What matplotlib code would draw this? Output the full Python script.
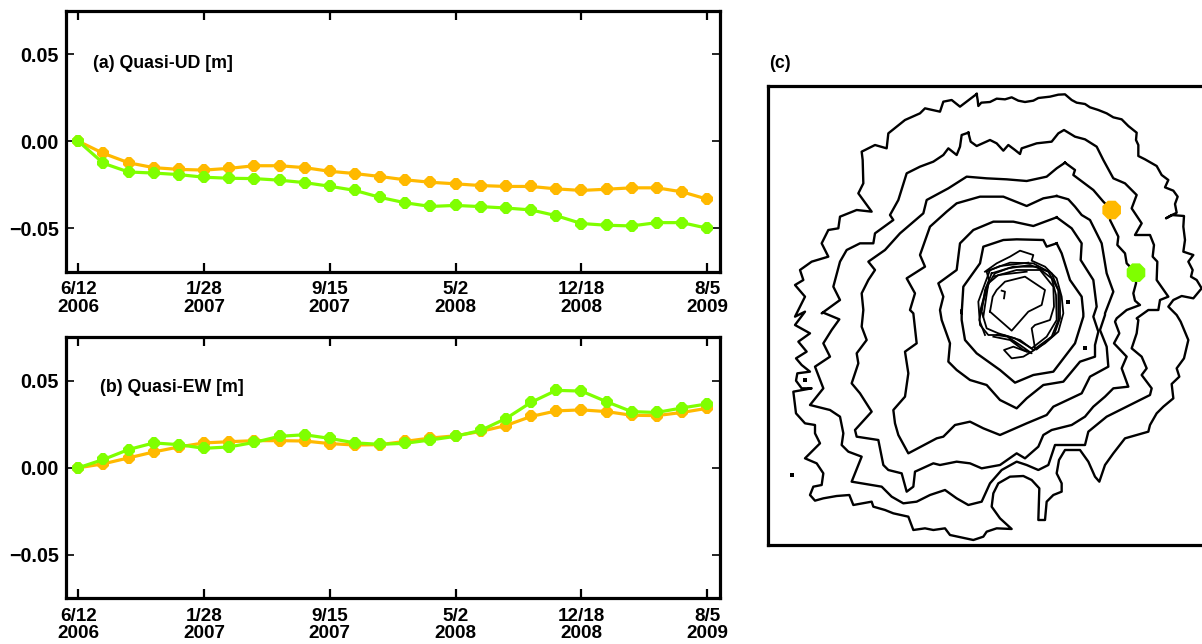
import matplotlib
matplotlib.use("Agg")
import matplotlib.pyplot as plt

plt.rcParams['font.family'] = ['Liberation Sans', 'DejaVu Sans']
plt.rcParams['font.weight'] = 'bold'

ORANGE = '#FFB900'
GREEN = '#7FFF00'

days = [0, 46, 92, 138, 184, 230, 276, 322, 368, 414, 460, 506, 552, 598, 644, 690, 736, 782, 828, 874, 920,
        966, 1012, 1058, 1104, 1150]
tick_days = [0, 230, 460, 690, 920, 1150]
tick_labels = ['6/12\n2006', '1/28\n2007', '9/15\n2007', '5/2\n2008', '12/18\n2008', '8/5\n2009']
y_ticks = [-0.05, 0.0, 0.05]
y_tick_labels = ['\u22120.05', '0.00', '0.05']

ud_orange = [0, -.007, -.0124, -.0152, -.0162, -.0166, -.0156, -.0141, -.0141, -.0152, -.0173, -.0186, -.0203,
             -.0222, -.0236, -.0245, -.0255, -.026, -.026, -.0274, -.0283, -.0276, -.0268, -.0268, -.0291, -.0333]
ud_green = [0, -.0127, -.0177, -.0183, -.0192, -.0207, -.0213, -.0215, -.0224, -.0238, -.0259, -.0283, -.0323,
            -.0354, -.0375, -.0369, -.0376, -.0384, -.0395, -.0428, -.0473, -.0483, -.0487, -.0468, -.0468, -.05]
ew_orange = [0, .0023, .0057, .0091, .012, .0143, .015, .0156, .0156, .0154, .0139, .0131, .0133,
             .0152, .0171, .0184, .0209, .0243, .0295, .0327, .0333, .0323, .0302, .03, .0318, .0342]
ew_green = [0, .0048, .0105, .0143, .0133, .0112, .012, .0146, .0181, .019, .0169, .0143, .0135,
            .0141, .016, .0181, .0215, .0283, .0376, .0445, .0441, .038, .0323, .0318, .0344, .0367]

# Contours in map units; y grows downward.  *_s parts are listed relative to south_shift.
south_shift = 690
c1_n = [(650,42),(653,60),(655,78),(664,68),(690,66),(710,56),(735,58),(755,52),(775,62),(795,66),(820,62),(835,54),
        (870,50),(895,44),(915,43),(935,60),(950,68),(975,72),(990,82),(1015,90),(1040,100),(1060,112),(1085,118),
        (1105,138),(1130,158),(1128,180),(1135,195),(1135,228),(1155,238),(1190,258),(1205,285),(1225,300),(1215,322),
        (1240,332),(1253,350),(1245,372),(1250,398),(1218,415),(1235,405),(1272,408),(1270,440),(1275,480),(1270,515),
        (1300,525),(1285,545),(1298,570),(1293,590),(1310,600),(1325,625),(1300,655),(1265,648),(1240,660),(1225,680),
        (1250,705),(1262,725)]
c1_s = [(1285,90),(1278,120),(1272,145),(1250,175),(1258,200),(1235,222),(1240,265),(1210,290),(1190,310),(1170,345),
        (1165,365),(1130,375),(1095,385),(1060,430),(1035,465),(1018,515),(1005,500),(985,455),(960,420),(915,420),
        (897,450),(890,490),(905,520),(905,545),(880,555),(860,575),(855,630),(835,630),(838,535),(815,510),(790,498),
        (750,500),(715,520),(700,550),(695,590),(720,625),(755,657),(710,655),(680,665),(670,680),(640,690),(570,675),
        (555,655),(520,660),(495,655),(460,660),(445,620),(400,610),(375,600),(340,590),(335,575),(280,585),(268,555),
        (230,558),(190,565),(165,572),(150,555),(160,530),(185,525),(190,490),(170,460),(135,445),(160,420),(180,400),
        (165,370),(165,345),(135,340),(108,310),(100,245),(155,235),(125,235),(108,212),(112,190),(150,185),(125,165),
        (108,145),(140,125),(115,95),(150,70),(105,45),(135,5),(105,20)]
c1_n2 = [(135,650),(105,615),(130,600),(120,570),(155,545),(205,530),(185,490),(205,450),(235,445),(240,410),(290,390),
         (335,395),(295,340),(310,310),(308,240),(305,215),(345,195),(380,205),(385,160),(410,140),(435,120),(480,100),
         (495,85),(540,95),(550,65),(575,60),(600,80),(650,42)]
c2_n = [(625,158),(632,185),(650,198),(690,180),(710,190),(730,212),(745,195),(765,210),(780,222),(785,205),(830,190),
        (875,185),(895,160),(912,150),(945,170),(975,178),(1010,200),(1030,240),(1060,295),(1095,310),(1130,345),
        (1115,385),(1145,430),(1125,465),(1170,465),(1182,495),(1178,530),(1192,545),(1190,600),(1225,650),(1200,660),
        (1195,690),(1165,690),(1130,715)]
c2_s = [(1135,30),(1130,70),(1115,115),(1145,140),(1160,175),(1145,195),(1175,235),(1170,255),(1120,280),(1070,305),
        (1040,320),(985,365),(975,405),(885,405),(865,465),(835,480),(800,465),(770,455),(725,480),(690,520),(665,575),
        (625,585),(590,565),(555,540),(510,555),(470,575),(430,580),(395,560),(365,530),(275,515),(305,440),(265,425),
        (245,405),(250,370),(240,320),(210,300),(150,285),(190,235),(165,170),(210,140),(190,100),(215,60),(238,28),
        (190,8)]
c2_n2 = [(185,700),(240,660),(220,620),(240,545),(260,510),(300,490),(340,490),(345,460),(400,420),(390,405),(415,360),
         (440,280),(480,260),(520,245),(550,225),(565,205),(590,225),(600,200),(605,165),(625,158)]
c3_n = [(915,248),(945,270),(940,285),(1000,330),(1030,365),(1055,390),(1050,420),(1075,470),(1072,495),(1095,520),
        (1100,550),(1128,578),(1128,610),(1120,640),(1125,662),(1140,675),(1100,690),(1070,715)]
c3_s = [(1065,35),(1078,70),(1062,100),(1100,140),(1085,175),(1105,230),(1060,235),(1035,260),(1000,290),(975,320),
        (935,345),(875,360),(850,375),(835,410),(795,445),(770,430),(720,465),(665,475),(630,460),(590,455),(540,465),
        (520,460),(465,485),(460,530),(440,545),(425,490),(385,480),(370,465),(355,390),(290,380),(285,360),(335,305),
        (300,250),(275,220),(295,160),(290,130),(320,90),(305,50),(310,0)]
c3_n2 = [(305,640),(325,600),(345,570),(325,545),(375,510),(420,460),(490,400),(500,360),(565,325),(620,290),(680,295),
         (740,298),(800,303),(860,290),(890,265),(915,248)]
c4_n = [(890,348),(925,358),(945,380),(965,405),(990,420),(1025,490),(1040,580),(1060,635),(1035,700)]
c4_s = [(1035,15),(1020,60),(1040,110),(1045,170),(990,200),(965,250),(880,290),(860,315),(800,340),(720,375),(670,355),
        (630,335),(585,345),(550,380),(530,385),(445,430),(415,375),(405,340),(400,300),(435,260),(445,190),(435,125),
        (470,100),(460,10)]
c4_n2 = [(450,690),(465,640),(440,595),(495,560),(480,525),(510,440),(560,395),(590,370),(660,350),(730,350),(800,378),
         (850,355),(890,348)]
c5_n = [(890,412),(935,445),(965,490),(962,540),(1000,600),(1010,680),(1000,710)]
c5_s = [(1000,20),(1015,65),(1005,105),(1005,140),(960,155),(910,215),(850,225),(800,265),(770,295),(720,270),(680,225),
        (630,210),(590,180),(565,155),(570,100),(545,30),(540,0)]
c5_n2 = [(540,690),(550,650),(535,610),(590,570),(600,490),(640,450),(700,425),(760,425),(820,438),(890,412)]
c6_n = [(890,490),(905,520),(930,600),(965,650),(970,700)]
c6_s = [(970,20),(945,100),(880,185),(820,195),(765,218),(720,180),(650,130),(615,90),(605,30),(605,0)]
c6_n2 = [(605,700),(610,620),(660,550),(670,500),(730,480),(770,478),(850,480),(860,500),(890,490)]

# Crater rim lines, listed in the crater frame (see crater_shift).
crater_shift = (510, 480)
rim_inner = [(180,215),(188,170),(200,150),(225,125),(285,110),(345,150),(335,195),(295,215),(245,272),(180,215)]
rim_a = [(165,95),(200,70),(240,50),(270,32),(310,45),(305,62),(345,80),(380,115),(395,170),(400,220),(385,275),
         (345,310),(305,335),(280,350),(245,355),(222,330),(250,320),(290,335)]
rim_b = [(180,90),(240,68),(310,70),(365,100),(385,150),(385,240),(365,290),(310,330),(270,300),(220,285),(175,285),
         (150,255),(145,185),(165,130),(180,90)]
rim_c = [(185,100),(250,80),(320,80),(365,115),(378,165),(380,240),(350,290),(305,325),(255,295),(205,280),(170,265),
         (155,215),(165,150),(185,100)]
rim_d = [(190,110),(260,90),(330,90),(370,140),(372,200),(360,240),(315,255),(305,265),(315,325)]
rim_e = [(160,230),(175,130),(205,105),(290,95)]
rim_f = [(150,215),(170,140),(195,100),(235,85),(300,75),(355,95),(390,160),(390,235),(372,285),(320,328)]
rim_g = [(165,285),(148,240),(158,190),(178,125),(170,95),(210,78),(295,68)]
rim_h = [(190,290),(240,300),(280,330),(305,340),(270,315),(232,290),(200,285)]
rim_tick = [(215,152),(225,155),(222,175)]
spot_x = [925, 975, 95, 135]
spot_y = [665, 803, 1185, 900]
site_x = [1055, 1128]
site_y = [390, 578]
site_colors = [ORANGE, GREEN]


def contour(north, south, north2):
    pts = north + [(x, y + south_shift) for x, y in south] + north2
    return [p[0] for p in pts], [p[1] for p in pts]


W, H = 1202, 644
fig = plt.figure(figsize=(W / 100, H / 100), dpi=100, facecolor='white')


def box(l, t, r, b):
    return [l / W, 1 - b / H, (r - l) / W, (b - t) / H]


def panel(rect, o, g, label, lx, ly):
    ax = fig.add_axes(box(*rect))
    ax.plot(days, o, '-8', color=ORANGE, lw=2.3, ms=8.6, mew=0)
    ax.plot(days, g, '-8', color=GREEN, lw=2.3, ms=8.6, mew=0)
    ax.set_xlim(-23, 1173)
    ax.set_ylim(-0.075, 0.075)
    ax.set_xticks(tick_days, tick_labels)
    ax.set_yticks(y_ticks, y_tick_labels)
    ax.tick_params(axis='x', direction='in', top=True, length=6.5, width=1.6, pad=7, labelsize=13.6)
    ax.tick_params(axis='y', direction='in', right=True, length=6, width=1.2, pad=5, labelsize=14.2)
    for lab in ax.get_xticklabels():
        lab.set_linespacing(1.02)
    for s in ax.spines.values():
        s.set_linewidth(2.3)
    ax.text((lx - rect[0]) / (rect[2] - rect[0]), (rect[3] - ly) / (rect[3] - rect[1]), label,
            transform=ax.transAxes, fontsize=12.8, va='center', ha='left')
    return ax


panel((65.7, 10.7, 719.7, 271.7), ud_orange, ud_green, '(a) Quasi-UD [m]', 93, 63.5)
panel((65.7, 337.3, 719.7, 598.3), ew_orange, ew_green, '(b) Quasi-EW [m]', 100, 388)

axc = fig.add_axes(box(768, 86, 1215, 545))
axc.set_xlim(24, 1365)
axc.set_ylim(1395, 18)
axc.set_xticks([])
axc.set_yticks([])
for s in axc.spines.values():
    s.set_linewidth(2.3)
for n, s_, n2 in [(c1_n, c1_s, c1_n2), (c2_n, c2_s, c2_n2), (c3_n, c3_s, c3_n2),
                  (c4_n, c4_s, c4_n2), (c5_n, c5_s, c5_n2), (c6_n, c6_s, c6_n2)]:
    xs, ys = contour(n, s_, n2)
    axc.plot(xs, ys, color='black', lw=1.7, solid_joinstyle='round')
for r in [rim_inner, rim_a, rim_b, rim_c, rim_d, rim_e, rim_f, rim_g, rim_h, rim_tick]:
    axc.plot([p[0] + crater_shift[0] for p in r], [p[1] + crater_shift[1] for p in r], color='black', lw=1.3)
axc.plot(spot_x, spot_y, 's', color='black', ms=3, mew=0)
axc.scatter(site_x, site_y, c=site_colors, s=210, marker='8', linewidths=0, zorder=5)
fig.text(769 / W, 1 - 63.5 / H, '(c)', fontsize=12.8, va='center', ha='left')

fig.savefig('out.png', dpi=100)
